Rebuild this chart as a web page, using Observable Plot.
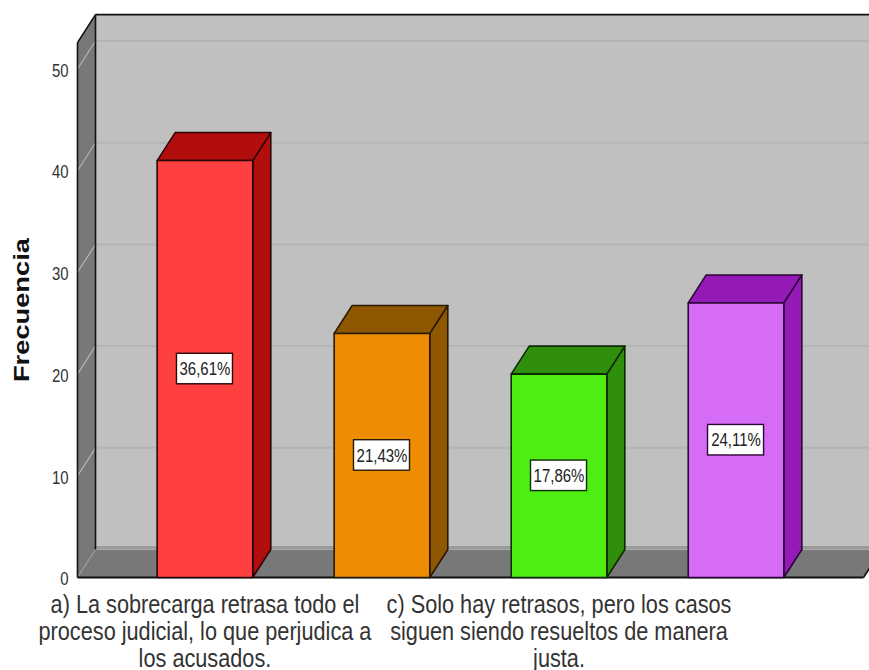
<!DOCTYPE html>
<html lang="es">
<head>
<meta charset="utf-8">
<script src="https://cdn.jsdelivr.net/npm/d3@7"></script>
<script src="https://cdn.jsdelivr.net/npm/@observablehq/plot@0.6"></script>
<style>
html,body{margin:0;padding:0;background:#fff;overflow:hidden}
svg{display:block}
</style>
</head>
<body>
<div id="chart"></div>
<script>
const categories = [
  "a) La sobrecarga retrasa todo el\nproceso judicial, lo que perjudica a\nlos acusados.",
  "",
  "c) Solo hay retrasos, pero los casos\nsiguen siendo resueltos de manera\njusta.",
  ""
];
const frequencies = [41, 24, 20, 27];
const percentLabels = ["36,61%", "21,43%", "17,86%", "24,11%"];
const frontColors = ["#ff4040", "#ee8c04", "#4eee14", "#d66cf6"];
const darkColors = ["#b30e0e", "#8f5800", "#2f8f0c", "#941ab8"];
const edgeColors = ["#2a0505", "#2a1a00", "#0c2a03", "#2a0535"];
const yTicks = [0, 10, 20, 30, 40, 50];
const gridTicks = [10, 20, 30, 40, 50];

const xMin = -0.72, xMax = 3.72, wallEnd = 4.1, yTop = 52.6;
const depthX = 18 / 177, depthY = 2.753, halfBar = 0.27;
const boxHalfW = 28 / 177, boxHalfH = 1.5;
const sans = "'Liberation Sans',Arial,sans-serif";

const poly = (id, fill, stroke, corners) =>
  corners.map(([x, y]) => ({id, fill, stroke, x, y}));

const faceMark = (rows, strokeWidth) => Plot.line(rows, {
  x: "x", y: "y", z: "id", fill: "fill", stroke: "stroke",
  strokeWidth, curve: "linear-closed", strokeLinejoin: "round"
});

const backWall = poly("back", "#c0c0c0", "none", [
  [xMin + depthX, depthY], [wallEnd, depthY], [wallEnd, yTop + depthY], [xMin + depthX, yTop + depthY]
]);
const leftWall = poly("left", "#787878", "none", [
  [xMin, 0], [xMin + depthX, depthY], [xMin + depthX, yTop + depthY], [xMin, yTop]
]);
const floor = poly("floor", "#787878", "none", [
  [xMin, 0], [xMax, 0], [xMax + depthX, depthY], [xMin + depthX, depthY]
]);

const bars = frequencies.flatMap((v, i) => {
  const l = i - halfBar, r = i + halfBar;
  return [
    ...poly(`side${i}`, darkColors[i], edgeColors[i], [[r, 0], [r + depthX, depthY], [r + depthX, v + depthY], [r, v]]),
    ...poly(`top${i}`, darkColors[i], edgeColors[i], [[l, v], [r, v], [r + depthX, v + depthY], [l + depthX, v + depthY]]),
    ...poly(`front${i}`, frontColors[i], edgeColors[i], [[l, 0], [r, 0], [r, v], [l, v]])
  ];
});

const labelRows = frequencies.map((v, i) => ({i, v, label: percentLabels[i], category: categories[i]}));

const chart = Plot.plot({
  width: 869, height: 670,
  marginLeft: 77, marginRight: 6, marginTop: 0, marginBottom: 93,
  style: {background: "#fff", overflow: "hidden"},
  x: {domain: [xMin, xMax], axis: null},
  y: {domain: [0, 56.74]},
  marks: [
    faceMark(backWall, 0),
    faceMark(leftWall, 0),
    faceMark(floor, 0),
    Plot.link(gridTicks, {x1: xMin + depthX, x2: wallEnd, y1: d => d + depthY, y2: d => d + depthY, stroke: "#b4b4b4", strokeWidth: 2}),
    Plot.link(gridTicks, {x1: xMin, x2: xMin + depthX, y1: d => d, y2: d => d + depthY, stroke: "#b4b4b4", strokeWidth: 1.2}),
    Plot.link([0], {x1: xMin, x2: xMin + depthX, y1: d => d, y2: d => d + depthY, stroke: "#9c9c9c", strokeWidth: 1.2}),
    Plot.link([0], {x1: xMin + depthX, x2: wallEnd, y1: depthY + 0.2, y2: depthY + 0.2, stroke: "#9a9a9a", strokeWidth: 3}),
    Plot.link([0], {x1: xMin + depthX, x2: wallEnd, y1: yTop + depthY, y2: yTop + depthY, stroke: "#111", strokeWidth: 1.6}),
    Plot.link([0], {x1: xMin + depthX, x2: xMin + depthX, y1: depthY, y2: yTop + depthY, stroke: "#111", strokeWidth: 1.6}),
    Plot.link([0], {x1: xMin, x2: xMin, y1: 0, y2: yTop, stroke: "#111", strokeWidth: 1.6}),
    Plot.link([0], {x1: xMin, x2: xMin + depthX, y1: yTop, y2: yTop + depthY, stroke: "#111", strokeWidth: 1.6}),
    Plot.link([0], {x1: xMin, x2: xMax, y1: 0, y2: 0, stroke: "#111", strokeWidth: 2}),
    Plot.link([0], {x1: xMax, x2: xMax + depthX, y1: 0, y2: depthY, stroke: "#111", strokeWidth: 1.6}),
    faceMark(bars, 1.6),
    Plot.rect(labelRows, {
      x1: d => d.i - boxHalfW, x2: d => d.i + boxHalfW,
      y1: d => d.v / 2 - boxHalfH, y2: d => d.v / 2 + boxHalfH,
      fill: "#fff", stroke: (d) => edgeColors[d.i], strokeWidth: 1.4
    }),
    Plot.text(labelRows, {
      x: "i", y: d => d.v / 2, text: "label", className: "sq-value",
      fontFamily: sans, fontSize: 19, fill: "#222"
    }),
    Plot.axisY({
      ticks: yTicks, tickSize: 0, tickPadding: 9, label: null, dy: 2,
      className: "sq-tick", fontFamily: sans, fontSize: 18, color: "#333"
    }),
    Plot.text(labelRows, {
      x: "i", y: 0, text: "category", lineAnchor: "top", dy: 16, className: "sq-cat",
      lineHeight: 1.04, fontFamily: sans, fontSize: 26, fill: "#333", textAnchor: "middle"
    }),
    Plot.text(["Frecuencia"], {
      frameAnchor: "left", dx: -56, y: 26.3, rotate: -90, textAnchor: "middle", className: "sq-title",
      fontFamily: sans, fontWeight: "bold", fontSize: 22, fill: "#111"
    })
  ]
});
// The reference's type is horizontally condensed (or stretched, for the title).
const squeeze = (cls, sx) => chart.querySelectorAll(`.${cls} text`).forEach(t => {
  t.setAttribute("transform", `${t.getAttribute("transform") || ""} scale(${sx},1)`);
});
squeeze("sq-value", 0.79);
squeeze("sq-tick", 0.83);
squeeze("sq-cat", 0.835);
squeeze("sq-title", 1.24);
document.getElementById("chart").append(chart);
</script>
</body>
</html>
